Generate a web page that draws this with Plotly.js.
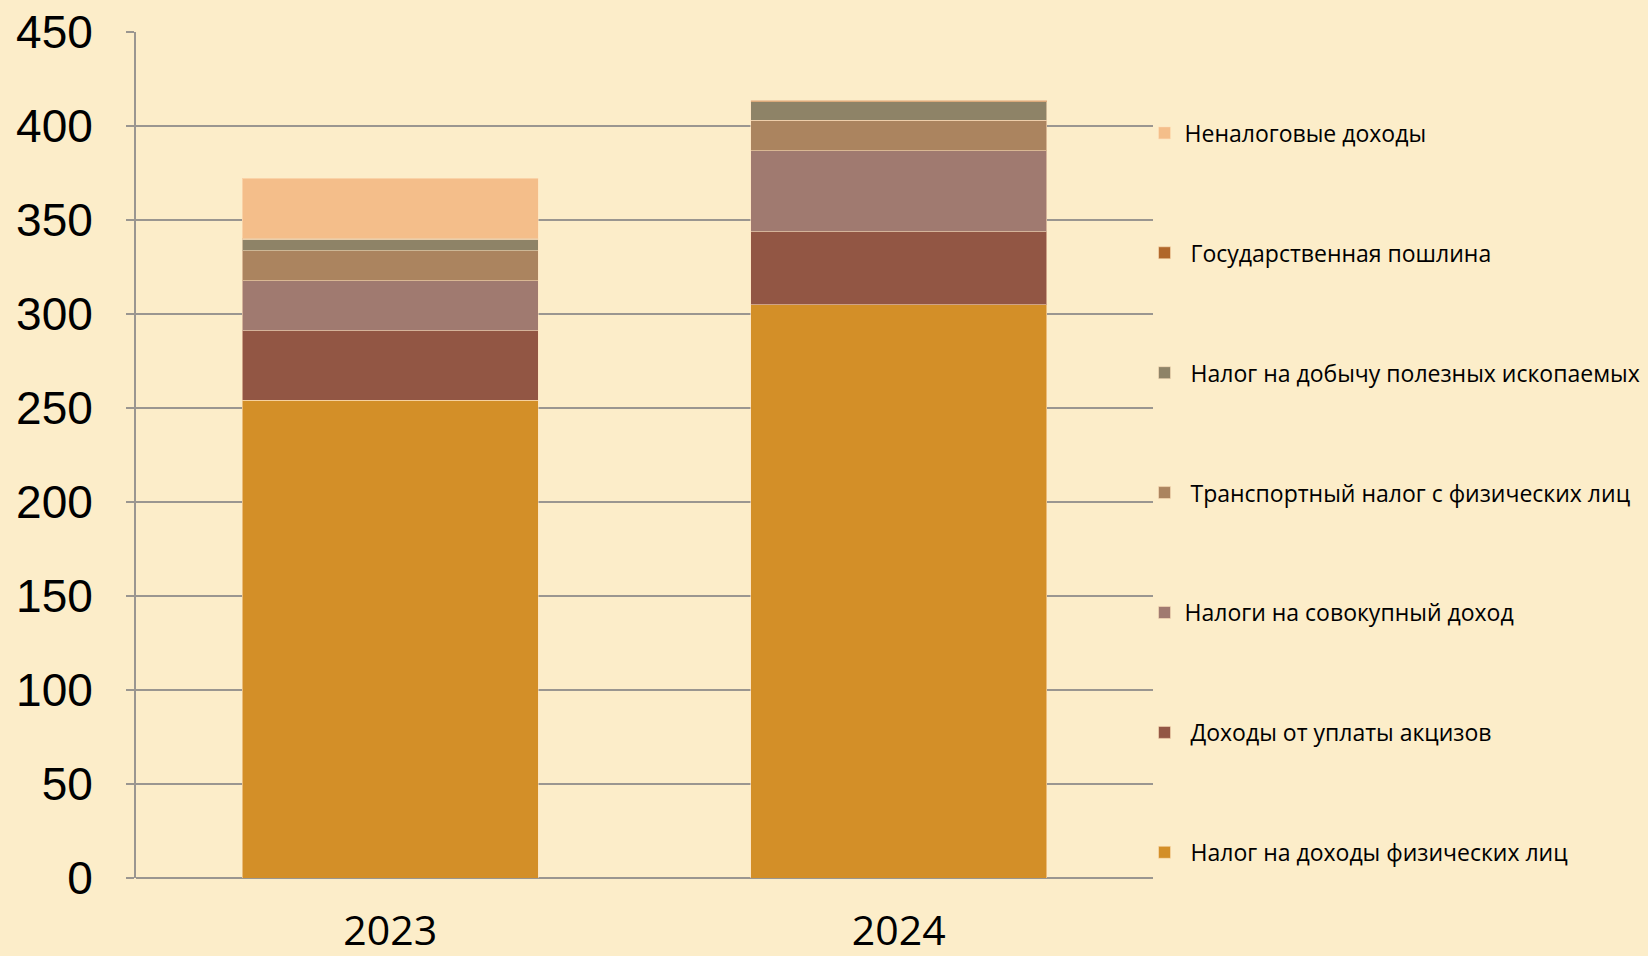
<!DOCTYPE html>
<html>
<head>
<meta charset="utf-8">
<script src="https://cdn.plot.ly/plotly-3.0.1.min.js"></script>
<style>
html,body{margin:0;padding:0;background:#FCEDC9;}
#chart{width:1648px;height:956px;}
</style>
</head>
<body>
<div id="chart"></div>
<script>
const years = ['2023', '2024'];
const seriesNames = [
  '\u00A0Налог на доходы физических лиц',
  '\u00A0Доходы от уплаты акцизов',
  'Налоги на совокупный доход',
  '\u00A0Транспортный налог с физических лиц',
  '\u00A0Налог на добычу полезных ископаемых',
  '\u00A0Государственная пошлина',
  'Неналоговые доходы'
];
const ndfl = [254.1, 305.0];
const excise = [37.1, 38.8];
const aggregateIncome = [26.5, 43.1];
const transport = [16.0, 16.1];
const mining = [6.0, 9.8];
const stateDuty = [0.5, 0.9];
const nonTax = [31.9, 0];
const yTicks = [0, 50, 100, 150, 200, 250, 300, 350, 400, 450];

const seriesValues = [ndfl, excise, aggregateIncome, transport, mining, stateDuty, nonTax];
const colors = ['#D38F28', '#925644', '#A07A70', '#AB845F', '#8E8367', '#B0672A', '#F4BE8A'];

const traces = seriesValues.map((vals, i) => ({
  type: 'bar',
  name: seriesNames[i],
  x: years,
  y: vals,
  legendgroup: 'g' + i,
  legendrank: 100 - i,
  marker: {color: colors[i], line: {color: 'rgba(255,225,190,0.55)', width: 1}},
  hoverinfo: 'x+y+name'
}));

const layout = {
  width: 1648,
  height: 956,
  barmode: 'stack',
  bargap: 0.418,
  paper_bgcolor: '#FCEDC9',
  plot_bgcolor: '#FCEDC9',
  margin: {l: 136, r: 495, t: 32, b: 78, autoexpand: false},
  showlegend: true,
  legend: {
    xref: 'container',
    x: 0.6945, xanchor: 'left',
    y: 0.9061, yanchor: 'top',
    traceorder: 'grouped',
    tracegroupgap: 87,
    font: {family: 'Open Sans, sans-serif', size: 23, color: '#000'},
    bgcolor: 'rgba(0,0,0,0)',
    itemclick: false
  },
  xaxis: {
    type: 'category',
    showgrid: false,
    showline: false,
    ticks: '',
    ticklabelstandoff: 25,
    tickfont: {family: 'Open Sans, sans-serif', size: 41, color: '#000'},
    fixedrange: true
  },
  yaxis: {
    range: [0, 450],
    tickvals: yTicks,
    ticktext: yTicks.map(String),
    showgrid: true,
    gridcolor: '#9a9690',
    gridwidth: 2,
    zeroline: true,
    zerolinecolor: '#9a9690',
    zerolinewidth: 2,
    showline: true,
    linecolor: '#9a9690',
    linewidth: 2,
    ticks: 'outside',
    ticklen: 8,
    tickcolor: '#9a9690',
    tickwidth: 2,
    ticklabelstandoff: 24,
    tickfont: {family: 'Liberation Sans, Arial, sans-serif', size: 46, color: '#000'},
    fixedrange: true
  }
};

Plotly.newPlot('chart', traces, layout, {displayModeBar: false, staticPlot: true});
</script>
</body>
</html>
